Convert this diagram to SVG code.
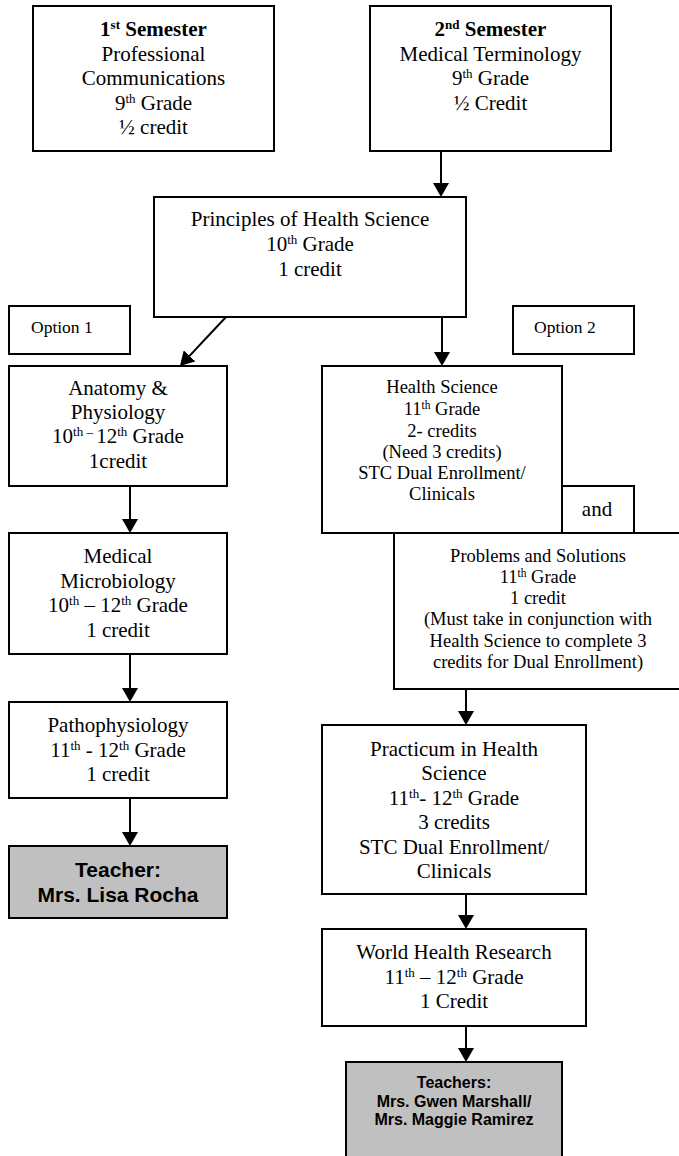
<svg xmlns="http://www.w3.org/2000/svg" width="679" height="1156" viewBox="0 0 679 1156">
<style>
.box{fill:#fff;stroke:#000;stroke-width:2}
.gray{fill:#c0c0c0;stroke:#000;stroke-width:2}
.t{font-family:"Liberation Serif","Times New Roman",serif;font-size:21px;fill:#000;text-anchor:middle}
.s{font-size:18.5px}
.o{font-family:"Liberation Serif","Times New Roman",serif;font-size:17.5px;fill:#000}
.b{font-weight:bold}
.a{font-family:"Liberation Sans",Arial,sans-serif;font-weight:bold;fill:#000;text-anchor:middle}
.sup{font-size:62%;baseline-shift:super}
.c{stroke:#000;stroke-width:2;fill:none;marker-end:url(#ah)}
</style>
<defs>
<marker id="ah" viewBox="0 0 14 16" refX="10" refY="8" markerWidth="14" markerHeight="16" orient="auto" markerUnits="userSpaceOnUse">
<path d="M0,0 L14,8 L0,16 z" fill="#000"/>
</marker>
</defs>
<rect width="679" height="1156" fill="#fff"/>
<g id="connectors">
<line class="c" x1="441" y1="151" x2="441" y2="193"/>
<line class="c" x1="442" y1="317" x2="442" y2="362"/>
<line class="c" x1="226" y1="317" x2="182.7" y2="363.1"/>
<line class="c" x1="130" y1="486" x2="130" y2="529"/>
<line class="c" x1="130" y1="654" x2="130" y2="698"/>
<line class="c" x1="130" y1="798" x2="130" y2="842"/>
<line class="c" x1="466" y1="689" x2="466" y2="721"/>
<line class="c" x1="466" y1="894" x2="466" y2="925"/>
<line class="c" x1="466" y1="1026" x2="466" y2="1058"/>
</g>
<g id="sem1">
<rect class="box" x="33" y="6" width="241" height="145"/>
<text class="t"><tspan x="153.5" y="36" class="b">1<tspan class="sup">st</tspan> Semester</tspan><tspan x="153.5" y="60.5">Professional</tspan><tspan x="153.5" y="85">Communications</tspan><tspan x="153.5" y="109.5">9<tspan class="sup">th</tspan> Grade</tspan><tspan x="153.5" y="134">½ credit</tspan></text>
</g>
<g id="sem2">
<rect class="box" x="370" y="6" width="241" height="145"/>
<text class="t"><tspan x="490.5" y="36" class="b">2<tspan class="sup">nd</tspan>  Semester</tspan><tspan x="490.5" y="60.5">Medical Terminology</tspan><tspan x="490.5" y="85">9<tspan class="sup">th</tspan> Grade</tspan><tspan x="490.5" y="109.5">½ Credit</tspan></text>
</g>
<g id="principles">
<rect class="box" x="154" y="197" width="312" height="120"/>
<text class="t"><tspan x="310" y="226">Principles of Health Science</tspan><tspan x="310" y="251">10<tspan class="sup">th</tspan> Grade</tspan><tspan x="310" y="276">1 credit</tspan></text>
</g>
<g id="option1">
<rect class="box" x="9" y="306" width="121" height="48"/>
<text class="o" x="31" y="333">Option 1</text>
</g>
<g id="option2">
<rect class="box" x="513" y="306" width="121" height="48"/>
<text class="o" x="534" y="333">Option 2</text>
</g>
<g id="anatomy">
<rect class="box" x="9" y="366" width="218" height="120"/>
<text class="t"><tspan x="118" y="395">Anatomy &amp;</tspan><tspan x="118" y="419">Physiology</tspan><tspan x="118" y="443">10<tspan class="sup">th – </tspan>12<tspan class="sup">th</tspan>  Grade</tspan><tspan x="118" y="468">1credit</tspan></text>
</g>
<g id="microbiology">
<rect class="box" x="9" y="533" width="218" height="121"/>
<text class="t"><tspan x="118" y="563">Medical</tspan><tspan x="118" y="587.5">Microbiology</tspan><tspan x="118" y="612">10<tspan class="sup">th</tspan> – 12<tspan class="sup">th</tspan> Grade</tspan><tspan x="118" y="637">1 credit</tspan></text>
</g>
<g id="pathophysiology">
<rect class="box" x="9" y="702" width="218" height="96"/>
<text class="t"><tspan x="118" y="732">Pathophysiology</tspan><tspan x="118" y="757">11<tspan class="sup">th</tspan> - 12<tspan class="sup">th</tspan> Grade</tspan><tspan x="118" y="781">1 credit</tspan></text>
</g>
<g id="teacher1">
<rect class="gray" x="9" y="846" width="218" height="72"/>
<text class="a" font-size="21"><tspan x="118" y="877">Teacher:</tspan><tspan x="118" y="902">Mrs. Lisa Rocha</tspan></text>
</g>
<g id="healthscience">
<rect class="box" x="322" y="366" width="240" height="167"/>
<text class="t s"><tspan x="442" y="393">Health Science</tspan><tspan x="442" y="415">11<tspan class="sup">th</tspan> Grade</tspan><tspan x="442" y="436.5">2- credits</tspan><tspan x="442" y="458">(Need 3 credits)</tspan><tspan x="442" y="479">STC Dual Enrollment/</tspan><tspan x="442" y="500">Clinicals</tspan></text>
</g>
<g id="and">
<rect class="box" x="562" y="486" width="72" height="47"/>
<text class="t" x="597" y="516">and</text>
</g>
<g id="problems">
<rect class="box" x="394" y="533" width="290" height="156"/>
<text class="t s"><tspan x="538" y="562">Problems and Solutions</tspan><tspan x="538" y="583">11<tspan class="sup">th</tspan> Grade</tspan><tspan x="538" y="604">1 credit</tspan><tspan x="538" y="625">(Must take in conjunction with</tspan><tspan x="538" y="646.5">Health Science to complete 3</tspan><tspan x="538" y="668">credits for Dual Enrollment)</tspan></text>
</g>
<g id="practicum">
<rect class="box" x="322" y="725" width="264" height="169"/>
<text class="t"><tspan x="454" y="756">Practicum in Health</tspan><tspan x="454" y="780">Science</tspan><tspan x="454" y="805">11<tspan class="sup">th</tspan>- 12<tspan class="sup">th</tspan> Grade</tspan><tspan x="454" y="829">3 credits</tspan><tspan x="454" y="854">STC Dual Enrollment/</tspan><tspan x="454" y="878">Clinicals</tspan></text>
</g>
<g id="worldhealth">
<rect class="box" x="322" y="929" width="264" height="97"/>
<text class="t"><tspan x="454" y="959">World Health Research</tspan><tspan x="454" y="984">11<tspan class="sup">th</tspan> – 12<tspan class="sup">th</tspan> Grade</tspan><tspan x="454" y="1008">1 Credit</tspan></text>
</g>
<g id="teachers2">
<rect class="gray" x="346" y="1062" width="216" height="104"/>
<text class="a" font-size="16"><tspan x="454" y="1088">Teachers:</tspan><tspan x="454" y="1106.5">Mrs. Gwen Marshall/</tspan><tspan x="454" y="1125">Mrs. Maggie Ramirez</tspan></text>
</g>
</svg>
